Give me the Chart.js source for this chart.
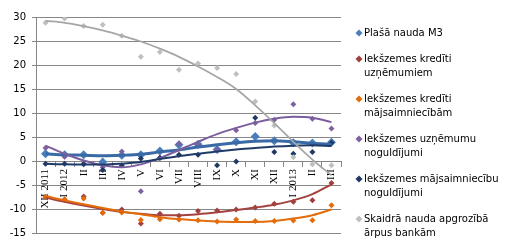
<!DOCTYPE html>
<html>
<head>
<meta charset="utf-8">
<script src="https://cdn.jsdelivr.net/npm/chart.js@4.4.1/dist/chart.umd.min.js"></script>
<style>
html, body { margin: 0; padding: 0; background: #fff; }
#wrap { width: 527px; height: 249px; }
</style>
</head>
<body>
<div id="wrap"><canvas id="chart" width="527" height="249"></canvas></div>
<script>
// Monetary aggregates, annual change (%), XII 2011 - III 2013

const months = ['XII 2011', 'I 2012', 'II', 'III', 'IV', 'V', 'VI', 'VII', 'VIII', 'IX', 'X', 'XI', 'XII', 'I 2013', 'II', 'III'];

const seriesNames = [
	['Plašā nauda M3'],
	['Iekšzemes kredīti', 'uzņēmumiem'],
	['Iekšzemes kredīti', 'mājsaimniecībām'],
	['Iekšzemes uzņēmumu', 'noguldījumi'],
	['Iekšzemes mājsaimniecību', 'noguldījumi'],
	['Skaidrā nauda apgrozībā', 'ārpus bankām']
];

// observed values
const m3 = [1.5, 1.3, 1.3, -0.2, 1.2, 1.3, 2.1, 3.4, 3.5, 2.4, 4.0, 5.1, 4.2, 3.8, 3.75, 3.9];
const creditFirms = [-7.5, -8.0, -7.4, -10.8, -10.1, -13.0, -11.0, -11.4, -10.4, -10.3, -10.1, -9.7, -8.9, -8.5, -8.2, -4.6];
const creditHouse = [-7.5, -8.0, -7.8, -10.8, -10.75, -12.3, -12.15, -12.2, -12.35, -12.6, -12.2, -12.5, -12.5, -12.4, -12.35, -9.2];
const depositFirms = [2.7, 0.9, -0.5, -1.3, 2.0, -6.3, 0.6, 3.6, 3.3, 2.4, 6.4, 7.9, 8.6, 11.8, 8.8, 6.75];
const depositHouse = [-0.55, -0.55, -0.7, -1.9, -0.9, 0.5, 0.7, 1.3, 1.3, -0.9, -0.1, 9.0, 1.9, 1.5, 1.9, 3.8];
const cash = [28.8, 29.7, 28.1, 28.4, 26.1, 21.7, 22.7, 19.0, 20.3, 19.4, 18.1, 12.4, 7.4, 0.8, -0.7, -0.9];

// trend lines
const m3Trend = [1.5, 1.3, 1.2, 1.1, 1.2, 1.4, 1.9, 2.3, 2.9, 3.4, 3.8, 4.1, 4.2, 4.0, 3.7, 3.5];
const creditFirmsTrend = [-7.6, -8.5, -9.3, -10.0, -10.6, -11.0, -11.3, -11.3, -11.1, -10.7, -10.2, -9.7, -9.1, -8.2, -6.9, -4.85];
const creditHouseTrend = [-7.3, -8.2, -9.0, -9.8, -10.5, -11.1, -11.7, -12.1, -12.4, -12.6, -12.7, -12.7, -12.5, -12.0, -11.3, -10.1];
const depositFirmsTrend = [3.2, 1.5, 0.1, -0.9, -1.3, -0.7, 0.6, 2.3, 4.0, 5.6, 6.9, 8.0, 8.8, 9.2, 9.0, 8.1];
const depositHouseTrend = [-0.55, -0.7, -0.75, -0.75, -0.55, -0.2, 0.4, 1.0, 1.5, 2.0, 2.4, 2.7, 3.0, 3.2, 3.3, 3.1];
const cashTrend = [29.2, 28.8, 28.1, 27.2, 26.1, 24.9, 23.4, 21.7, 19.7, 17.5, 15.0, 11.6, 7.9, 4.0, 0.3, -3.0];

const yTicks = { min: -15, max: 30, step: 5 };

const pointColors = ['#4a7ebb', '#a0403c', '#e46c0a', '#7f619f', '#1f3864', '#bfbfbf'];
const trendColors = ['#3a6aa5', '#a3423f', '#e46c0a', '#7b5e9e', '#1f3c68', '#a6a6a6'];
const trendWidths = [3, 2, 2, 2, 2, 1.75];
const pointSizes = [4.5, 3, 3, 3, 3, 3];

const values = [m3, creditFirms, creditHouse, depositFirms, depositHouse, cash];
const trends = [m3Trend, creditFirmsTrend, creditHouseTrend, depositFirmsTrend, depositHouseTrend, cashTrend];

const datasets = [];
values.forEach((vals, k) => {
	datasets.push({
		label: seriesNames[k].join(' '),
		data: vals,
		showLine: false,
		pointStyle: 'rectRot',
		pointRadius: pointSizes[k],
		pointBorderWidth: 0,
		pointBackgroundColor: pointColors[k],
		pointBorderColor: pointColors[k],
		order: 20 - k
	});
});
trends.forEach((vals, k) => {
	datasets.push({
		label: 'trend ' + k,
		data: vals,
		borderColor: trendColors[k],
		borderWidth: trendWidths[k],
		pointRadius: 0,
		fill: false,
		cubicInterpolationMode: 'monotone',
		order: 10 - k
	});
});

// legend on the right, with two-line entries
const sideLegend = {
	id: 'sideLegend',
	afterDraw(chart) {
		const ctx = chart.ctx;
		ctx.save();
		ctx.font = '10px "DejaVu Sans"';
		ctx.textBaseline = 'middle';
		let y = 33;
		seriesNames.forEach((lines, k) => {
			ctx.fillStyle = pointColors[k];
			ctx.beginPath();
			ctx.moveTo(359, y - 3.5);
			ctx.lineTo(362.5, y);
			ctx.lineTo(359, y + 3.5);
			ctx.lineTo(355.5, y);
			ctx.closePath();
			ctx.fill();
			ctx.fillStyle = '#000';
			lines.forEach((t, j) => ctx.fillText(t, 364, y + j * 14));
			y += lines.length * 14 + 12;
		});
		ctx.restore();
	}
};

new Chart(document.getElementById('chart'), {
	type: 'line',
	data: { labels: months, datasets: datasets },
	plugins: [sideLegend],
	options: {
		responsive: false,
		animation: false,
		layout: { padding: { left: 0, top: 17, right: 186, bottom: 16 } },
		plugins: {
			legend: { display: false },
			tooltip: { enabled: false }
		},
		scales: {
			x: {
				type: 'category',
				position: { y: 0 },
				offset: true,
				grid: {
					offset: true,
					drawOnChartArea: false,
					drawTicks: true,
					tickLength: 5,
					color: '#868686'
				},
				border: { color: '#868686', width: 1 },
				ticks: {
					autoSkip: false,
					minRotation: 90,
					maxRotation: 90,
					padding: 3,
					color: '#000',
					font: { family: 'Liberation Serif', size: 11 }
				}
			},
			y: {
				min: yTicks.min,
				max: yTicks.max,
				afterFit: s => { s.width = 36; },
				grid: {
					color: '#868686',
					tickLength: 4
				},
				border: { color: '#868686', width: 1 },
				ticks: {
					stepSize: yTicks.step,
					padding: 6,
					color: '#000',
					font: { family: 'DejaVu Sans', size: 10 }
				}
			}
		}
	}
});
</script>
</body>
</html>
